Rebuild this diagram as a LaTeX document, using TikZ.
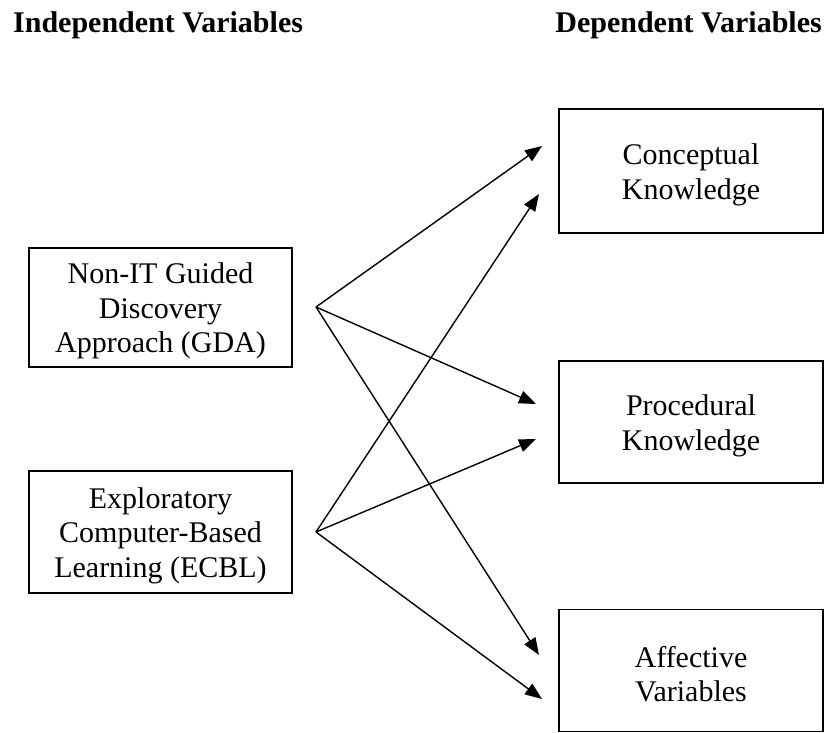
\documentclass[tikz,border=0pt]{standalone}
\usepackage{fontspec}
\setmainfont{Liberation Serif}
\usetikzlibrary{arrows.meta}
\newcommand{\tstr}{\rule{0pt}{28pt}}
\begin{document}
\begin{tikzpicture}[x=1pt,y=-1pt,
  box/.style={draw,line width=1.6pt,minimum width=263pt,align=center,
    font=\fontsize{30}{34.5}\selectfont,inner sep=0pt},
  hdr/.style={font=\fontsize{30}{34.5}\selectfont\bfseries,inner sep=0pt},
  link/.style={line width=1.4pt,-{Triangle[length=17pt,width=13pt]}}]
\useasboundingbox (0,0) rectangle (830,733);
\fill[white] (0,0) rectangle (830,733);
% headers
\node[hdr,anchor=base west] (hi) at (13,33) {Independent Variables};
\node[hdr,anchor=base east] (hd) at (822,33) {Dependent Variables};
% left boxes
\node[box,minimum height=119pt] (gda) at (160.5,307.5) {\tstr Non-IT Guided\\Discovery\\Approach (GDA)};
\node[box,minimum height=122pt] (ecbl) at (160.5,532) {\tstr Exploratory\\Computer-Based\\Learning (ECBL)};
% right boxes
\node[box,minimum width=264pt,minimum height=124pt] (ck) at (691,171) {\tstr Conceptual\\Knowledge};
\node[box,minimum width=264pt,minimum height=122pt] (pk) at (691,422) {\tstr Procedural\\Knowledge};
\node[box,minimum width=264pt,minimum height=122pt] (av) at (691,670.5) {\tstr Affective\\Variables};
% connector points
\coordinate (s1) at (316,307);
\coordinate (s2) at (316,532);
\coordinate (c1) at (542,146);
\coordinate (c2) at (539,194);
\coordinate (p1) at (536,404);
\coordinate (p2) at (536,439);
\coordinate (a1) at (539,655);
\coordinate (a2) at (542,699);
\draw[link] (s1) -- (c1);
\draw[link] (s1) -- (p1);
\draw[link] (s1) -- (a1);
\draw[link] (s2) -- (c2);
\draw[link] (s2) -- (p2);
\draw[link] (s2) -- (a2);
\end{tikzpicture}
\end{document}
